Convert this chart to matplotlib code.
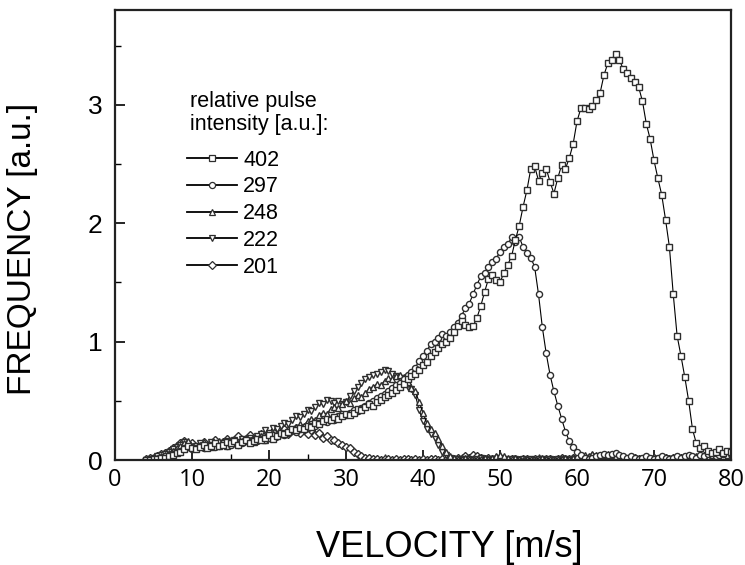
#!/usr/bin/env python
"""Velocity distributions of the ejected particles for several pulse intensities."""

import numpy as np
import matplotlib
matplotlib.use('Agg')
import matplotlib.pyplot as plt
from matplotlib.lines import Line2D
from matplotlib.ticker import MultipleLocator

# velocity grid [m/s], 4.0 ... 80.0 in 0.5 steps
velocity = np.arange(4.0, 80.01, 0.5)

intensities = ['402', '297', '248', '222', '201']
markers = {'402': 's', '297': 'o', '248': '^', '222': 'v', '201': 'D'}

freq_201 = [
    0.01, 0.02, 0.02, 0.03, 0.05, 0.06, 0.08, 0.10, 0.12, 0.14,
    0.16, 0.12, 0.14, 0.11, 0.13, 0.15, 0.12, 0.14, 0.17, 0.13,
    0.15, 0.18, 0.14, 0.17, 0.20, 0.16, 0.18, 0.21, 0.17, 0.19,
    0.22, 0.18, 0.21, 0.24, 0.20, 0.23, 0.26, 0.22, 0.25, 0.27,
    0.23, 0.26, 0.22, 0.25, 0.21, 0.23, 0.19, 0.20, 0.17, 0.17,
    0.14, 0.13, 0.11, 0.10, 0.07, 0.05, 0.03, 0.02, 0.02, 0.01,
    0.01, 0.00, 0.01, 0.01, 0.00, 0.01, 0.00, 0.01, 0.01, 0.00,
    0.01, 0.00, 0.01, 0.00, 0.01, 0.01, 0.00, 0.01, 0.00, 0.01,
    0.01, 0.02, 0.01, 0.03, 0.02, 0.04, 0.03, 0.02, 0.01, 0.02,
    0.01, 0.02, 0.01, 0.01, 0.00, 0.01, 0.01, 0.00, 0.01, 0.01,
    0.00, 0.01, 0.01, 0.00, 0.01, 0.01, 0.00, 0.01, 0.02, 0.01,
    0.01, 0.02, 0.01, 0.02, 0.01, 0.02, 0.03, 0.02, 0.01, 0.02,
    0.01, 0.02, 0.01, 0.01, 0.02, 0.01, 0.01, 0.02, 0.01, 0.01,
    0.02, 0.01, 0.02, 0.01, 0.01, 0.02, 0.01, 0.02, 0.01, 0.02,
    0.01, 0.02, 0.02, 0.01, 0.02, 0.03, 0.02, 0.01, 0.02, 0.03,
    0.02, 0.03, 0.02,
]

freq_222 = [
    0.00, 0.01, 0.02, 0.03, 0.04, 0.05, 0.07, 0.09, 0.11, 0.13,
    0.15, 0.13, 0.10, 0.12, 0.14, 0.11, 0.13, 0.15, 0.12, 0.14,
    0.13, 0.16, 0.14, 0.17, 0.15, 0.18, 0.16, 0.19, 0.17, 0.20,
    0.22, 0.25, 0.23, 0.27, 0.26, 0.29, 0.31, 0.30, 0.34, 0.37,
    0.36, 0.39, 0.42, 0.41, 0.45, 0.48, 0.47, 0.51, 0.50, 0.48,
    0.50, 0.47, 0.49, 0.54, 0.58, 0.62, 0.65, 0.68, 0.70, 0.72,
    0.73, 0.74, 0.76, 0.75, 0.73, 0.71, 0.69, 0.65, 0.62, 0.60,
    0.55, 0.42, 0.33, 0.26, 0.22, 0.19, 0.13, 0.07, 0.04, 0.02,
    0.01, 0.01, 0.00, 0.01, 0.01, 0.00, 0.01, 0.02, 0.01, 0.00,
    0.01, 0.01, 0.02, 0.01, 0.00, 0.01, 0.01, 0.00, 0.01, 0.00,
    0.01, 0.00, 0.01, 0.01, 0.00, 0.01, 0.00, 0.01, 0.00, 0.01,
    0.00, 0.01, 0.01, 0.00, 0.01, 0.02, 0.01, 0.00, 0.01, 0.01,
    0.00, 0.01, 0.01, 0.02, 0.01, 0.00, 0.01, 0.01, 0.00, 0.01,
    0.01, 0.00, 0.01, 0.01, 0.02, 0.01, 0.00, 0.01, 0.01, 0.00,
    0.01, 0.01, 0.00, 0.01, 0.02, 0.01, 0.01, 0.00, 0.01, 0.01,
    0.00, 0.01, 0.01,
]

freq_248 = [
    0.00, 0.01, 0.01, 0.02, 0.03, 0.04, 0.06, 0.08, 0.10, 0.12,
    0.14, 0.16, 0.12, 0.10, 0.13, 0.15, 0.12, 0.11, 0.14, 0.16,
    0.14, 0.12, 0.15, 0.17, 0.14, 0.16, 0.19, 0.17, 0.15, 0.18,
    0.20, 0.17, 0.19, 0.22, 0.21, 0.24, 0.23, 0.26, 0.25, 0.28,
    0.30, 0.29, 0.33, 0.35, 0.34, 0.38, 0.40, 0.39, 0.43, 0.45,
    0.44, 0.47, 0.50, 0.48, 0.52, 0.55, 0.53, 0.57, 0.60, 0.62,
    0.64, 0.63, 0.67, 0.69, 0.68, 0.71, 0.72, 0.70, 0.66, 0.61,
    0.58, 0.49, 0.40, 0.31, 0.26, 0.23, 0.18, 0.12, 0.07, 0.03,
    0.02, 0.01, 0.01, 0.02, 0.01, 0.00, 0.01, 0.01, 0.02, 0.01,
    0.02, 0.03, 0.04, 0.03, 0.02, 0.01, 0.02, 0.01, 0.00, 0.01,
    0.01, 0.00, 0.01, 0.02, 0.01, 0.01, 0.00, 0.01, 0.01, 0.02,
    0.01, 0.02, 0.03, 0.02, 0.04, 0.03, 0.05, 0.04, 0.03, 0.04,
    0.05, 0.04, 0.03, 0.02, 0.03, 0.02, 0.01, 0.02, 0.01, 0.02,
    0.01, 0.02, 0.01, 0.02, 0.01, 0.01, 0.02, 0.01, 0.02, 0.01,
    0.02, 0.01, 0.02, 0.03, 0.02, 0.01, 0.02, 0.02, 0.03, 0.02,
    0.03, 0.02, 0.03,
]

freq_297 = [
    0.00, 0.00, 0.01, 0.01, 0.02, 0.03, 0.04, 0.05, 0.07, 0.08,
    0.10, 0.11, 0.09, 0.10, 0.12, 0.10, 0.11, 0.13, 0.11, 0.12,
    0.14, 0.12, 0.13, 0.15, 0.13, 0.14, 0.16, 0.15, 0.17, 0.16,
    0.18, 0.17, 0.19, 0.21, 0.20, 0.22, 0.21, 0.23, 0.25, 0.24,
    0.26, 0.28, 0.27, 0.30, 0.29, 0.31, 0.33, 0.32, 0.35, 0.34,
    0.37, 0.39, 0.38, 0.40, 0.42, 0.41, 0.44, 0.46, 0.48, 0.50,
    0.52, 0.54, 0.56, 0.58, 0.61, 0.63, 0.65, 0.68, 0.72, 0.74,
    0.78, 0.84, 0.88, 0.92, 0.98, 1.00, 1.03, 1.06, 1.05, 1.08,
    1.12, 1.16, 1.22, 1.28, 1.32, 1.40, 1.48, 1.55, 1.58, 1.63,
    1.67, 1.70, 1.76, 1.80, 1.82, 1.88, 1.84, 1.88, 1.80, 1.75,
    1.71, 1.63, 1.40, 1.12, 0.90, 0.72, 0.58, 0.46, 0.35, 0.24,
    0.16, 0.11, 0.07, 0.04, 0.02, 0.01, 0.02, 0.03, 0.04, 0.05,
    0.04, 0.05, 0.06, 0.04, 0.03, 0.02, 0.03, 0.02, 0.01, 0.02,
    0.03, 0.02, 0.01, 0.02, 0.03, 0.02, 0.01, 0.02, 0.03, 0.02,
    0.03, 0.04, 0.03, 0.02, 0.04, 0.03, 0.05, 0.04, 0.03, 0.04,
    0.05, 0.04, 0.05,
]

freq_402 = [
    0.00, 0.00, 0.01, 0.01, 0.02, 0.02, 0.03, 0.04, 0.06, 0.07,
    0.09, 0.12, 0.10, 0.09, 0.11, 0.13, 0.10, 0.12, 0.14, 0.12,
    0.13, 0.15, 0.14, 0.16, 0.13, 0.15, 0.17, 0.14, 0.16, 0.18,
    0.17, 0.19, 0.21, 0.18, 0.20, 0.23, 0.22, 0.24, 0.26, 0.25,
    0.27, 0.26, 0.29, 0.28, 0.31, 0.30, 0.33, 0.35, 0.34, 0.36,
    0.35, 0.37, 0.39, 0.38, 0.40, 0.43, 0.42, 0.45, 0.47, 0.46,
    0.49, 0.51, 0.53, 0.55, 0.57, 0.59, 0.62, 0.64, 0.68, 0.71,
    0.73, 0.76, 0.80, 0.83, 0.88, 0.91, 0.95, 0.98, 1.00, 1.03,
    1.08, 1.13, 1.17, 1.14, 1.12, 1.13, 1.20, 1.30, 1.42, 1.53,
    1.56, 1.52, 1.50, 1.58, 1.65, 1.72, 1.86, 1.98, 2.14, 2.28,
    2.46, 2.48, 2.36, 2.42, 2.46, 2.35, 2.25, 2.38, 2.49, 2.46,
    2.55, 2.67, 2.86, 2.97, 2.97, 2.96, 2.99, 3.04, 3.10, 3.25,
    3.35, 3.38, 3.43, 3.38, 3.30, 3.27, 3.23, 3.19, 3.15, 3.03,
    2.84, 2.71, 2.53, 2.38, 2.24, 2.03, 1.80, 1.40, 1.05, 0.88,
    0.70, 0.50, 0.26, 0.14, 0.10, 0.12, 0.08, 0.06, 0.07, 0.09,
    0.06, 0.08, 0.07,
]

series = {'201': freq_201, '222': freq_222, '248': freq_248,
          '297': freq_297, '402': freq_402}

EDGE = '#2e2e2e'


def plot_distributions(save_path='out.png'):
    fig = plt.figure(figsize=(7.45, 5.65), dpi=100)
    ax = fig.add_axes([0.1544, 0.1858, 0.8268, 0.7965])

    # low intensities first so the big curves end up on top
    for name in ['201', '222', '248', '297', '402']:
        ms = 3.6 if markers[name] == 'D' else 4.4
        ax.plot(velocity, series[name], '-', color='black', linewidth=0.8,
                marker=markers[name], markersize=ms, markerfacecolor='white',
                markeredgecolor=EDGE, markeredgewidth=1.0)

    ax.set_xlim(0, 80)
    ax.set_ylim(0, 3.8)
    ax.xaxis.set_major_locator(MultipleLocator(10))
    ax.xaxis.set_minor_locator(MultipleLocator(5))
    ax.yaxis.set_major_locator(MultipleLocator(1))
    ax.yaxis.set_minor_locator(MultipleLocator(0.5))
    ax.tick_params(which='both', direction='in', top=False, right=False)
    ax.tick_params(which='major', length=7, width=1.2)
    ax.tick_params(which='minor', length=4, width=1.0)
    ax.tick_params(axis='y', labelsize=19, pad=9)
    ax.tick_params(axis='x', pad=6)
    for lab in ax.get_yticklabels():
        lab.set_fontfamily('Liberation Sans')
    for lab in ax.get_xticklabels():
        lab.set_fontfamily('Open Sans')
        lab.set_fontsize(17)
    for sp in ax.spines.values():
        sp.set_linewidth(1.6)
        sp.set_color('#222222')

    ax.set_xlabel('VELOCITY [m/s]', fontsize=26, family='Liberation Sans')
    ax.set_ylabel('FREQUENCY [a.u.]', fontsize=24, family='Liberation Sans')
    ax.xaxis.set_label_coords(0.542, -0.156)
    ax.yaxis.set_label_coords(-0.125, 0.469)

    # legend heading as plain text, entries below it
    ax.text(0.122, 0.82, 'relative pulse\nintensity [a.u.]:', transform=ax.transAxes,
            ha='left', va='top', fontsize=15.5, family='Liberation Sans',
            linespacing=1.15)

    # legend keys: line - marker - line, slightly heavier than the data lines
    handles = [Line2D([], [], color='black', linewidth=1.3, marker=markers[k],
                      markersize=4.4 if markers[k] != 'D' else 3.8,
                      markerfacecolor='white', markeredgecolor=EDGE,
                      markeredgewidth=0.9) for k in intensities]
    ax.legend(handles, intensities, loc='upper left', bbox_to_anchor=(0.117, 0.69),
              frameon=False, numpoints=1, handlelength=2.3, handletextpad=0.3,
              labelspacing=0.27, borderpad=0, borderaxespad=0,
              prop={'family': 'Liberation Sans', 'size': 15.5})

    fig.savefig(save_path, dpi=100)
    print(f"Saved figure to: {save_path}")


def main():
    plot_distributions('out.png')


if __name__ == '__main__':
    main()
